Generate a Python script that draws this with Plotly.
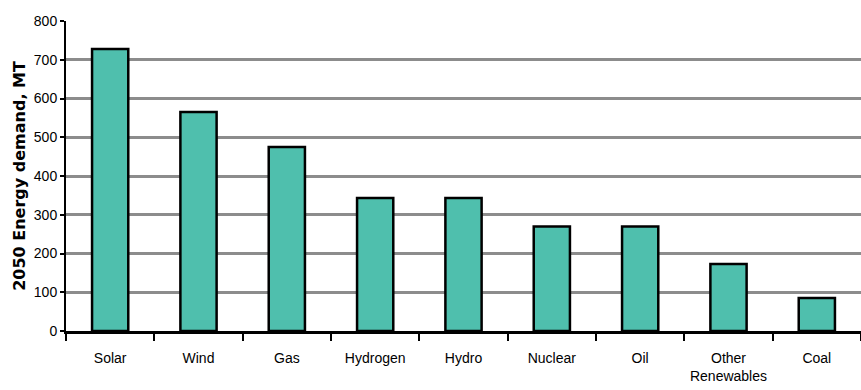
import plotly.graph_objects as go

categories = ["Solar", "Wind", "Gas", "Hydrogen", "Hydro", "Nuclear", "Oil", "Other<br>Renewables", "Coal"]
values = [728, 565, 475, 343, 343, 270, 270, 173, 85]
y_ticks = [0, 100, 200, 300, 400, 500, 600, 700, 800]

font_fam = "Liberation Sans, Arial, sans-serif"

fig = go.Figure()
fig.add_trace(go.Bar(
    x=categories, y=values,
    marker=dict(color="#4fbfad", line=dict(color="black", width=2.5)),
    width=0.41,
))
fig.update_layout(
    width=861, height=390,
    margin=dict(l=66, r=0, t=21, b=59),
    plot_bgcolor="white", paper_bgcolor="white",
    showlegend=False,
    font=dict(family=font_fam, size=14, color="black"),
)
fig.update_xaxes(
    showline=True, linecolor="black", linewidth=3,
    ticks="outside", tickson="boundaries", ticklen=7, tickwidth=2, tickcolor="black",
    ticklabelstandoff=12, tickangle=0, automargin=False,
    showgrid=False, tickfont=dict(size=14),
)
fig.update_yaxes(
    range=[0, 800], tickvals=y_ticks,
    showline=True, linecolor="black", linewidth=2,
    ticks="outside", ticklen=4, tickwidth=2, tickcolor="black",
    showgrid=True, gridcolor="#8c8c8c", gridwidth=3,
    zeroline=False, automargin=False,
    tickfont=dict(size=14),
    title=dict(text="<b>2050 Energy demand, MT</b>", font=dict(family="DejaVu Sans, sans-serif", size=16), standoff=4),
)
fig.write_html("out.html")
